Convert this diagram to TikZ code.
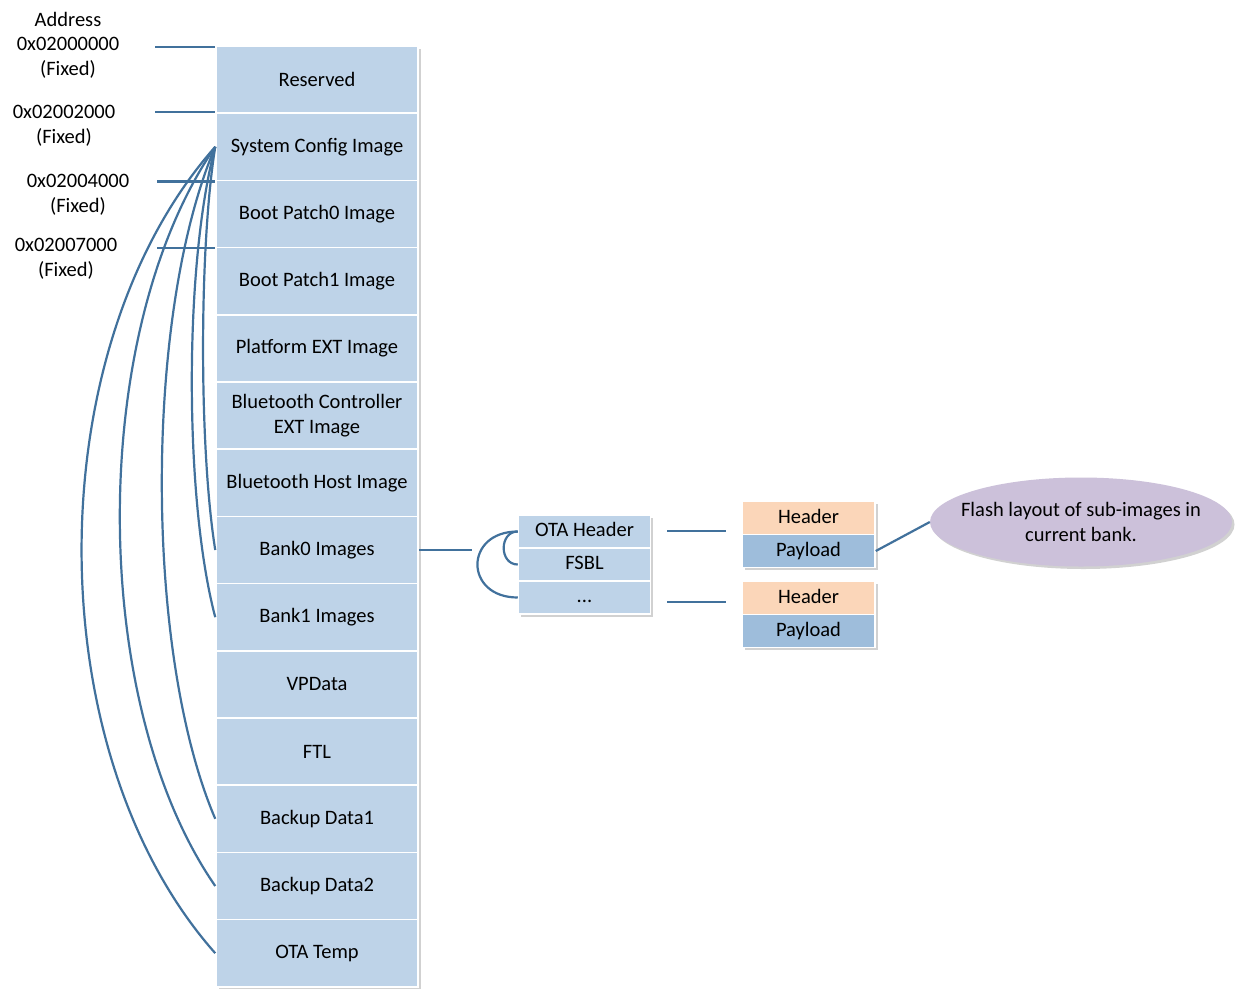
\documentclass[tikz,border=0pt]{standalone}
\usepackage{fontspec}
\setmainfont{Carlito}
\usetikzlibrary{shapes.geometric,shadows}
\definecolor{boxblue}{RGB}{190,211,232}
\definecolor{linkblue}{RGB}{65,113,156}
\definecolor{hdrpeach}{RGB}{251,214,185}
\definecolor{paybl}{RGB}{158,189,219}
\definecolor{lav}{RGB}{204,193,218}
\begin{document}
\begin{tikzpicture}[x=1pt,y=-1pt,
  every node/.style={font=\fontsize{20.5}{25}\selectfont, inner sep=0pt},
  shadowed/.style={drop shadow={shadow xshift=2.5pt, shadow yshift=-2.5pt, opacity=0.18, fill=black}},
  memrow/.style={draw=white, line width=1.5pt, fill=boxblue, minimum width=202pt, minimum height=67.2pt, align=center, shadowed},
  otarow/.style={draw=white, line width=1.5pt, fill=boxblue, minimum width=132pt, minimum height=33pt, text height=14pt, text depth=4pt, shadowed},
  hdrbox/.style={draw=white, line width=1.5pt, fill=hdrpeach, minimum width=133pt, minimum height=33pt, text height=14pt, text depth=4pt, shadowed},
  paybox/.style={draw=white, line width=1.5pt, fill=paybl, minimum width=133pt, minimum height=33pt, text height=14pt, text depth=4pt, shadowed},
  link/.style={draw=linkblue, line width=2.2pt},
  addr/.style={align=center}
]
\useasboundingbox[fill=white] (0,0) rectangle (1246,1001);

% memory column
\node[memrow] (res)   at (317,79.6)  {Reserved};
\node[memrow] (sci)   at (317,146.8) {System Config Image};
\node[memrow] (bp0)   at (317,214.0) {Boot Patch0 Image};
\node[memrow] (bp1)   at (317,281.2) {Boot Patch1 Image};
\node[memrow] (pext)  at (317,348.4) {Platform EXT Image};
\node[memrow] (btc)   at (317,415.6) {Bluetooth Controller\\EXT Image};
\node[memrow] (bth)   at (317,482.8) {Bluetooth Host Image};
\node[memrow] (bank0) at (317,550.0) {Bank0 Images};
\node[memrow] (bank1) at (317,617.2) {Bank1 Images};
\node[memrow] (vp)    at (317,684.4) {VPData};
\node[memrow] (ftl)   at (317,751.6) {FTL};
\node[memrow] (bd1)   at (317,818.8) {Backup Data1};
\node[memrow] (bd2)   at (317,886.0) {Backup Data2};
\node[memrow] (otat)  at (317,953.2) {OTA Temp};

% address labels
\node[addr] (addrt) at (68,19)  {Address};
\node[addr] (a0t)   at (68,44)  {0x02000000};
\node[addr] (a0f)   at (68,69)  {(Fixed)};
\node[addr] (a1t)   at (64,112) {0x02002000};
\node[addr] (a1f)   at (64,137) {(Fixed)};
\node[addr] (a2t)   at (78,181) {0x02004000};
\node[addr] (a2f)   at (78,206) {(Fixed)};
\node[addr] (a3t)   at (66,245) {0x02007000};
\node[addr] (a3f)   at (66,270) {(Fixed)};

\coordinate (a0) at (155,47);
\coordinate (a1) at (155,112);
\coordinate (a2) at (157,181.5);
\coordinate (a3) at (157,248);
\draw[link] (a0) -- (a0 -| res.west);
\draw[link] (a1) -- (a1 -| res.west);
\draw[link] (a2) -- (a2 -| sci.west);
\draw[link] (a3) -- (a3 -| bp0.west);

% curves from System Config Image
\draw[link] (sci.west) .. controls (199,247) and (199,449) .. (bank0.west);
\draw[link] (sci.west) .. controls (184,264) and (184,499) .. (bank1.west);
\draw[link] (sci.west) .. controls (144,314) and (144,652) .. (bd1.west);
\draw[link] (sci.west) .. controls (88,331) and (88,702) .. (bd2.west);
\draw[link] (sci.west) .. controls (37,348) and (37,752) .. (otat.west);

% OTA block
\node[otarow] (ota1) at (584.5,531.5) {OTA Header};
\node[otarow] (fsbl) at (584.5,564.5) {FSBL};
\node[otarow] (dots) at (584.5,597.5) {...};

\coordinate (j0) at (472,550);
\draw[link] (bank0.east) -- (j0);
\draw[link] (ota1.west) .. controls (499,531.5) and (499,564.5) .. (fsbl.west);
\draw[link] (ota1.west) .. controls (464,531.5) and (464,597.5) .. (dots.west);

% header / payload
\node[hdrbox] (hdr1) at (808.5,518) {Header};
\node[paybox] (pay1) at (808.5,551) {Payload};
\node[hdrbox] (hdr2) at (808.5,598) {Header};
\node[paybox] (pay2) at (808.5,631) {Payload};

\coordinate (l1a) at (667,531);
\coordinate (l1b) at (726,531);
\coordinate (l2a) at (667,602);
\coordinate (l2b) at (726,602);
\draw[link] (l1a) -- (l1b);
\draw[link] (l2a) -- (l2b);

% note
\node[ellipse, fill=lav, minimum width=302pt, minimum height=89pt, shadowed] (note) at (1081,522) {};
\node[align=center] (notetext) at (note.center) {Flash layout of sub-images in\\current bank.};
\draw[link] (pay1.east) -- (note.west);
\end{tikzpicture}
\end{document}
